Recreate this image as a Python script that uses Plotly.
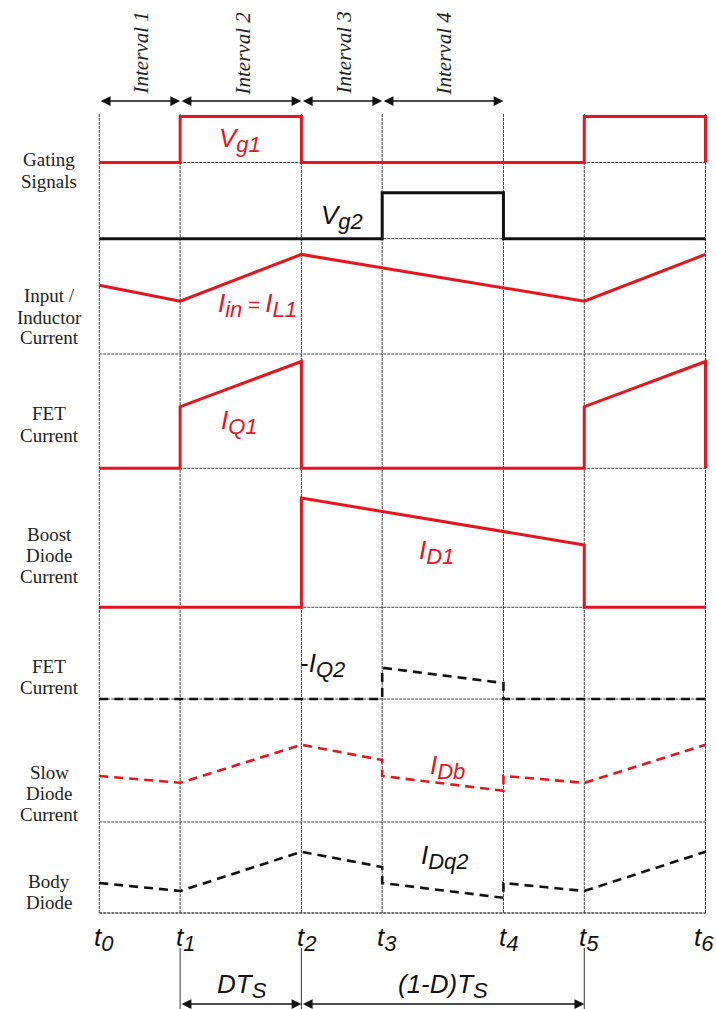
import plotly.graph_objects as go

# ---------------- data ----------------
t_ticks = [0, 2, 5, 7, 10, 12, 15]              # t0 .. t6
t_names = ["0", "1", "2", "3", "4", "5", "6"]

vg1_t = [0, 2, 2, 5, 5, 12, 12, 15, 15]
vg1_v = [0, 0, 1.15, 1.15, 0, 0, 1.15, 1.15, 0]

vg2_t = [0, 7, 7, 10, 10, 15]
vg2_v = [0, 0, 1.15, 1.15, 0, 0]

iin_t = [0, 2, 5, 12, 15]
iin_v = [1.72, 1.32, 2.49, 1.32, 2.49]

iq1_t = [0, 2, 2, 5, 5, 12, 12, 15, 15]
iq1_v = [0, 0, 1.54, 2.67, 0, 0, 1.54, 2.67, 0]

id1_t = [0, 5, 5, 12, 12, 15]
id1_v = [0, 0, 2.73, 1.56, 0, 0]

iq2_t = [0, 7, 7, 10, 10, 15]
iq2_v = [0, 0, 0.78, 0.40, 0, 0]

idb_t = [0, 2, 5, 7, 7, 10, 10, 12, 15]
idb_v = [1.15, 0.98, 1.93, 1.55, 1.15, 0.78, 1.15, 0.98, 1.93]

idq2_t = [0, 2, 5, 7, 7, 10, 10, 12, 15]
idq2_v = [0.75, 0.55, 1.53, 1.15, 0.75, 0.38, 0.75, 0.55, 1.53]

row_labels = [["Gating", "Signals"],
              ["Input /", "Inductor", "Current"],
              ["FET", "Current"],
              ["Boost", "Diode", "Current"],
              ["FET", "Current"],
              ["Slow", "Diode", "Current"],
              ["Body", "Diode"]]

interval_labels = ["Interval 1", "Interval 2", "Interval 3", "Interval 4"]

# ---------------- layout helpers ----------------
W, H = 716, 1009
RED = "#e5141d"
BLK = "#111111"
GRID = "#444444"

def py(y):
    return 1 - y / H

def px(x):
    return x / W

T0_PX, T6_PX = 99.3, 705.5
UNIT = (T6_PX - T0_PX) / (t_ticks[-1] - t_ticks[0])
XPAD = 0.2
x_lo_px = T0_PX - XPAD * UNIT
x_hi_px = T6_PX + XPAD * UNIT

# subplot rows: (top px, bottom px)
rows = [(116.5, 162.5), (162.5, 238.7), (238.7, 354), (354, 468.3),
        (468.3, 607.3), (607.3, 699), (699, 822), (822, 913)]
K = 40.0   # px per value unit
PAD = 7.0

fig = go.Figure()

def yname(i):
    return "y" if i == 0 else f"y{i+1}"

def ykey(i):
    return "yaxis" if i == 0 else f"yaxis{i+1}"

series = [
    (0, vg1_t, vg1_v, RED, "solid", 3),
    (1, vg2_t, vg2_v, BLK, "solid", 3),
    (2, iin_t, iin_v, RED, "solid", 3),
    (3, iq1_t, iq1_v, RED, "solid", 3),
    (4, id1_t, id1_v, RED, "solid", 3),
    (5, iq2_t, iq2_v, BLK, "9px,6px", 2.6),
    (6, idb_t, idb_v, RED, "9px,6px", 2.6),
    (7, idq2_t, idq2_v, BLK, "9px,6px", 2.6),
]

shapes = []
for tv in t_ticks:
    shapes.append(dict(type="line", xref="x", yref="paper", x0=tv, x1=tv,
                       y0=py(913), y1=py(113), layer="below",
                       line=dict(color=GRID, width=1, dash="3px,1px")))
for i in range(len(rows)):
    shapes.append(dict(type="line", xref="x", yref=yname(i), x0=t_ticks[0], x1=t_ticks[-1],
                       y0=0, y1=0, layer="below",
                       line=dict(color=GRID, width=1.4 if i == len(rows) - 1 else 1,
                                 dash="3px,1px")))
for tv in [t_ticks[1], t_ticks[2], t_ticks[5]]:
    shapes.append(dict(type="line", xref="x", yref="paper", x0=tv, x1=tv,
                       y0=py(1009), y1=py(948), layer="below",
                       line=dict(color="#333333", width=1)))

for (r, tt, vv, col, dash, w) in series:
    fig.add_trace(go.Scatter(x=tt, y=vv, mode="lines", xaxis="x", yaxis=yname(r),
                             line=dict(color=col, width=w, dash=dash),
                             hoverinfo="skip", showlegend=False))

layout = dict(
    width=W, height=H, margin=dict(l=0, r=0, t=0, b=0),
    paper_bgcolor="white", plot_bgcolor="rgba(0,0,0,0)", showlegend=False,
    xaxis=dict(domain=[px(x_lo_px), px(x_hi_px)],
               range=[t_ticks[0] - XPAD, t_ticks[-1] + XPAD],
               visible=False, anchor=yname(len(rows) - 1), fixedrange=True),
)
for i, (top, bot) in enumerate(rows):
    hgt = bot - top
    layout[ykey(i)] = dict(domain=[py(bot + PAD), py(top - PAD)],
                           range=[-PAD / K, (hgt + PAD) / K],
                           visible=False, anchor="x", fixedrange=True)
fig.update_layout(**layout)

ann = []
SERIF = "Liberation Serif, Times New Roman, serif"
SANS = "Liberation Sans, Arial, sans-serif"

row_label_y = [[159.5, 181], [296, 317, 338], [414, 435], [534, 555, 576],
               [666, 687], [772.5, 793.5, 814.5], [881, 902]]
for lines, ys in zip(row_labels, row_label_y):
    for txt, yy in zip(lines, ys):
        ann.append(dict(text=txt, x=px(49), y=py(yy), xref="paper", yref="paper",
                        showarrow=False, xanchor="center", yanchor="middle",
                        font=dict(family=SERIF, size=19, color="#222222")))

interval_x = [140, 242, 343, 443]
for txt, xx in zip(interval_labels, interval_x):
    ann.append(dict(text=f"<i>{txt}</i>", x=px(xx), y=py(53.5), xref="paper", yref="paper",
                    showarrow=False, textangle=-90, xanchor="center", yanchor="middle",
                    font=dict(family=SERIF, size=21, color="#222222")))

def arrow(a, b, ypix):
    return dict(text="", x=t_ticks[b], y=py(ypix), xref="x", yref="paper",
                ax=t_ticks[a], ay=0, axref="x", ayref="pixel",
                showarrow=True, arrowside="end+start", arrowhead=2,
                arrowsize=1.3, arrowwidth=1.5, arrowcolor="#111111",
                standoff=0, startstandoff=0)

for a, b in [(0, 1), (1, 2), (2, 3), (3, 4)]:
    ann.append(arrow(a, b, 101))
for a, b in [(1, 2), (2, 5)]:
    ann.append(arrow(a, b, 1004))

def lab(main, sub, subsize=22):
    return (f"<i>{main}</i><sub><span style='font-size:{subsize}px'><i>{sub}</i></span></sub>")

sig_labels = [
    (lab("V", "g1"), 240, 140, RED),
    (lab("V", "g2"), 342, 217, BLK),
    (lab("I", "in") + "<span style='font-size:20px'><i> = </i></span>" + lab("I", "L1"), 257, 305, RED),
    (lab("I", "Q1"), 240, 422, RED),
    (lab("I", "D1"), 436, 552, RED),
    ("-" + lab("I", "Q2"), 322, 665, BLK),
    (lab("I", "Db"), 447, 767, RED),
    (lab("I", "Dq2"), 445, 857, BLK),
    (lab("DT", "S"), 242, 986, BLK),
    ("<i>(1-D)</i>" + lab("T", "S"), 443, 986, BLK),
]
for txt, xx, yy, col in sig_labels:
    ann.append(dict(text=txt, x=px(xx), y=py(yy), xref="paper", yref="paper",
                    showarrow=False, xanchor="center", yanchor="middle",
                    font=dict(family=SANS, size=26, color=col)))

for k, (tv, nm) in enumerate(zip(t_ticks, t_names)):
    ann.append(dict(text=lab("t", nm), x=tv, y=py(939), xref="x", yref="paper",
                    xshift=5 if k < len(t_ticks) - 1 else -1,
                    showarrow=False, xanchor="center", yanchor="middle",
                    font=dict(family=SANS, size=26, color=BLK)))

fig.update_layout(annotations=ann, shapes=shapes)
fig.write_html("out.html",
               config={"displayModeBar": False},
               post_script="document.body.style.margin='0px';document.body.style.overflow='hidden';")
